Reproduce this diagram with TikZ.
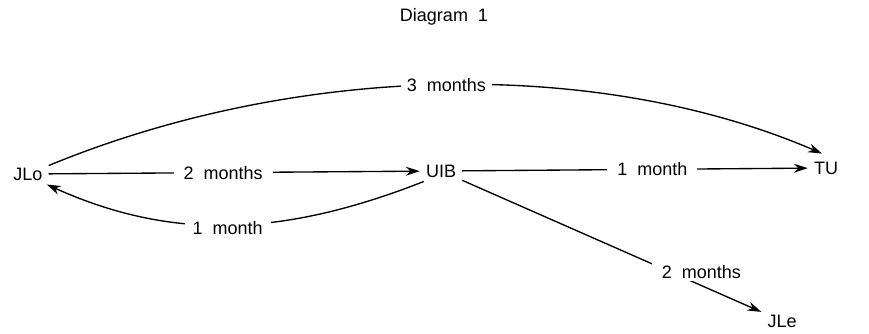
\documentclass[tikz,border=0pt]{standalone}
\usepackage{fontspec}
\setmainfont{Liberation Sans}
\usetikzlibrary{arrows.meta}
\begin{document}
\begin{tikzpicture}[x=1pt,y=-1pt,
  every node/.style={font=\fontsize{18}{20}\selectfont},
  place/.style={inner xsep=6pt,inner ysep=4pt},
  lbl/.style={fill=white,inner xsep=10pt,inner ysep=3pt},
  arr/.style={line width=1.35pt,-{Stealth[length=14pt,width=9pt]}}]
\useasboundingbox (0,0) rectangle (869,334);
\node (title) at (444,17) {Diagram\ \ 1};
\node[place] (jlo) at (28,174) {JLo};
\node[place] (uib) at (441,171) {UIB};
\node[place] (tu) at (826,168) {TU};
\node[place] (jle) at (782,321) {JLe};
% straight connectors
\draw[arr] (jlo) -- node[lbl,pos=0.47] {2\ \ months} (uib);
\draw[arr] (uib) -- node[lbl,pos=0.55] {1\ \ month} (tu);
\draw[arr] (uib) -- node[lbl,pos=0.8,yshift=14pt] {2\ \ months} (jle);
% curved connectors
\draw[arr] ([yshift=-2pt]jlo.north east) .. controls (300,62) and (600,58) .. node[lbl,pos=0.5,inner xsep=6pt] {3\ \ months} ([xshift=-4pt,yshift=4pt]tu.north);
\draw[arr] ([xshift=4pt]uib.south west) .. controls (280,238) and (170,240) .. node[lbl,pos=0.5,yshift=-3pt,inner xsep=8pt] {1\ \ month} ([xshift=-2pt]jlo.south east);
\end{tikzpicture}
\end{document}
